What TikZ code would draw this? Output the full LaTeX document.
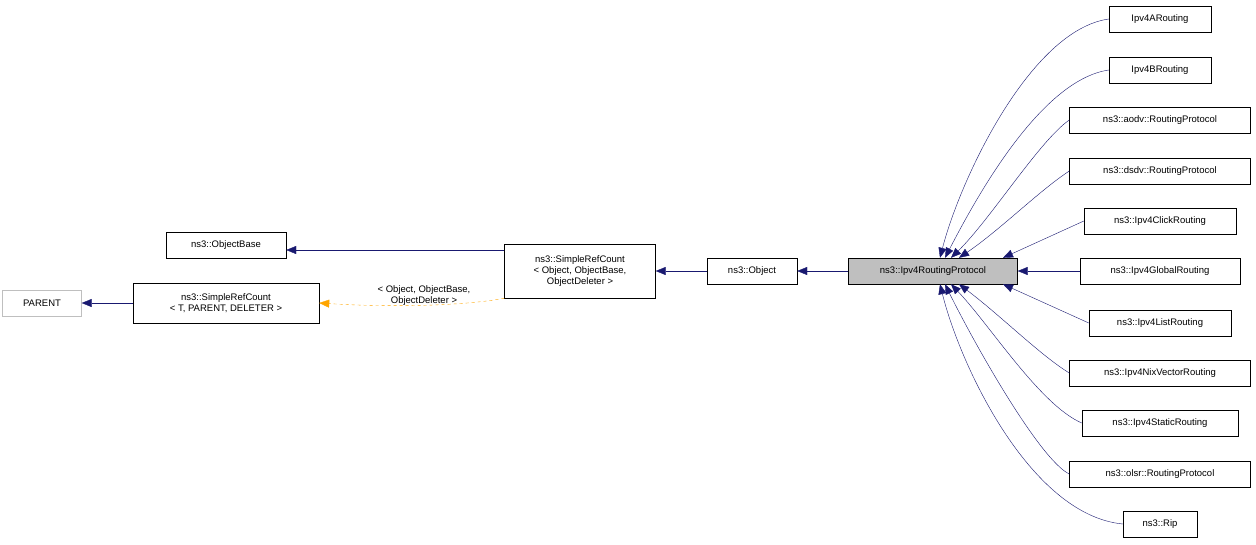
\documentclass[tikz,border=0pt]{standalone}
\usepackage{fontspec}
\setmainfont{Liberation Sans}
\usetikzlibrary{arrows.meta}
\begin{document}
\begin{tikzpicture}[x=1pt,y=-1pt,
  box/.style={draw=black,fill=white,inner sep=0pt,minimum height=26pt,font=\fontsize{9.5}{11}\selectfont,align=center},
  inh/.style={draw={rgb,255:red,25;green,25;blue,112},-{Triangle[width=8pt,length=10pt]},thin},
  tmpl/.style={draw={rgb,255:red,255;green,165;blue,0},dashed,-{Triangle[width=8pt,length=10pt]},thin}]
\useasboundingbox (0,0) rectangle (1256,544);
\node[box,draw={rgb,255:red,191;green,191;blue,191},minimum width=79pt] (par) at (42,303) {PARENT};
\node[box,minimum width=186pt,minimum height=40pt] (srt) at (226,303) {ns3::SimpleRefCount\\< T, PARENT, DELETER >};
\node[box,minimum width=120pt] (ob) at (226,245) {ns3::ObjectBase};
\node[box,minimum width=151pt,minimum height=54pt] (sro) at (580,271) {ns3::SimpleRefCount\\< Object, ObjectBase,\\ObjectDeleter >};
\node[box,minimum width=90pt] (obj) at (752,271) {ns3::Object};
\node[box,fill={rgb,255:red,191;green,191;blue,191},minimum width=169pt] (p) at (933,271) {ns3::Ipv4RoutingProtocol};
\node[box,minimum width=102pt] (a) at (1160,19) {Ipv4ARouting};
\node[box,minimum width=102pt] (b) at (1160,70) {Ipv4BRouting};
\node[box,minimum width=181pt] (aodv) at (1160,120) {ns3::aodv::RoutingProtocol};
\node[box,minimum width=181pt] (dsdv) at (1160,171) {ns3::dsdv::RoutingProtocol};
\node[box,minimum width=152pt] (click) at (1160,221) {ns3::Ipv4ClickRouting};
\node[box,minimum width=160pt] (glob) at (1160,271) {ns3::Ipv4GlobalRouting};
\node[box,minimum width=142pt] (list) at (1160,323) {ns3::Ipv4ListRouting};
\node[box,minimum width=181pt] (nix) at (1160,373) {ns3::Ipv4NixVectorRouting};
\node[box,minimum width=156pt] (stat) at (1160,423) {ns3::Ipv4StaticRouting};
\node[box,minimum width=181pt] (olsr) at (1160,474) {ns3::olsr::RoutingProtocol};
\node[box,minimum width=74pt] (rip) at (1160,524) {ns3::Rip};
\draw[inh] (srt) -- (par);
\draw[inh] (sro.west |- 0,250) -- (ob.east |- 0,250);
\draw[inh] (obj) -- (sro);
\draw[inh] (p) -- (obj);
\draw[tmpl] (sro.south west) .. controls (470,305) and (400,308) .. (srt.east);
\node[font=\fontsize{9.5}{11}\selectfont,align=center] (lab) at (424,296) {< Object, ObjectBase,\\ObjectDeleter >};
\draw[inh] (a.west) .. controls (1030,30) and (960,180) .. ([xshift=7pt]p.north);
\draw[inh] (b.west) .. controls (1040,80) and (975,200) .. ([xshift=12pt]p.north);
\draw[inh] (aodv.west) .. controls (1040,140) and (990,220) .. ([xshift=18pt]p.north);
\draw[inh] (dsdv.west) .. controls (1040,190) and (1000,230) .. ([xshift=26pt]p.north);
\draw[inh] (click.west) -- ([xshift=70pt]p.north);
\draw[inh] (glob) -- (p);
\draw[inh] (list.west) -- ([xshift=70pt]p.south);
\draw[inh] (nix.west) .. controls (1040,355) and (1000,315) .. ([xshift=26pt]p.south);
\draw[inh] (stat.west) .. controls (1040,405) and (990,325) .. ([xshift=18pt]p.south);
\draw[inh] (olsr.west) .. controls (1040,460) and (975,345) .. ([xshift=12pt]p.south);
\draw[inh] (rip.west) .. controls (1030,515) and (960,365) .. ([xshift=7pt]p.south);
\end{tikzpicture}
\end{document}
